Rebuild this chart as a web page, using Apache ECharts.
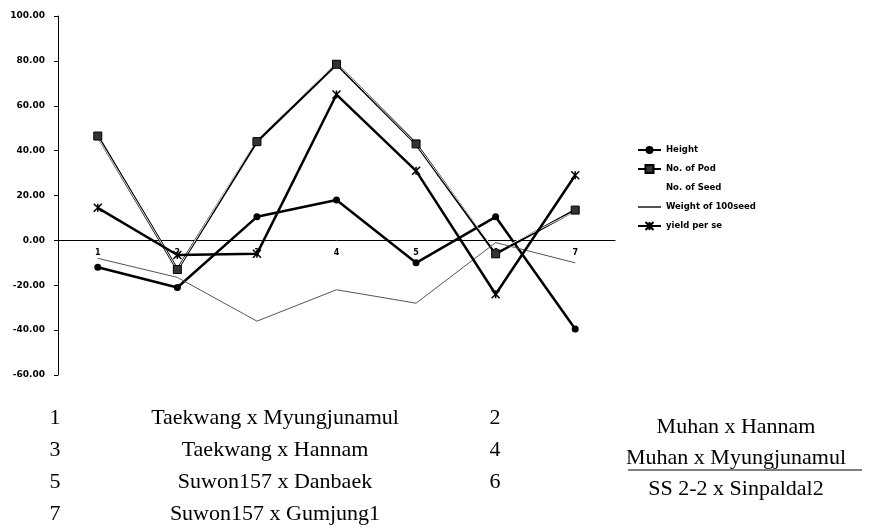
<!DOCTYPE html>
<html>
<head>
<meta charset="utf-8">
<script src="https://cdn.jsdelivr.net/npm/echarts@6/dist/echarts.min.js"></script>
<style>
  html, body { margin: 0; padding: 0; background: #fff; }
  #main { width: 871px; height: 531px; }
</style>
</head>
<body>
<div id="main"></div>
<script>
// data
var cats = ['1', '2', '3', '4', '5', '6', '7'];
var height = [-12, -21, 10.5, 18, -10, 10.5, -39.5];
var noOfPod = [46.5, -13, 44, 78.5, 43, -6, 13.5];
var noOfSeed = [46, -13, 45, 79, 43, -5, 13];
var weight100 = [-8, -16.5, -36, -22, -28, -1, -10];
var yieldPerSe = [14.5, -6.5, -6, 65, 31, -24, 29];

// crosses listed under the chart
var leftNums = ['1', '3', '5', '7'];
var leftNames = ['Taekwang x Myungjunamul', 'Taekwang x Hannam', 'Suwon157 x Danbaek', 'Suwon157 x Gumjung1'];
var rightNums = ['2', '4', '6'];
var rightNames = ['Muhan x Hannam', 'Muhan x Myungjunamul', 'SS 2-2 x Sinpaldal2'];

var smallFont = { fontFamily: 'DejaVu Sans', fontSize: 8.5, fontWeight: 'bold', color: '#000' };
var serifFont = '22px "Liberation Serif"';

var graphics = [];
var rowY = [418, 450, 482, 514];
var rightY = [427, 458, 489];
for (var i = 0; i < leftNums.length; i++) {
  graphics.push({ type: 'text', x: 55, y: rowY[i], style: { text: leftNums[i], font: serifFont, fill: '#000', align: 'center', verticalAlign: 'middle' } });
  graphics.push({ type: 'text', x: 275, y: rowY[i], style: { text: leftNames[i], font: serifFont, fill: '#000', align: 'center', verticalAlign: 'middle' } });
}
for (var j = 0; j < rightNums.length; j++) {
  graphics.push({ type: 'text', x: 495, y: rowY[j], style: { text: rightNums[j], font: serifFont, fill: '#000', align: 'center', verticalAlign: 'middle' } });
  graphics.push({ type: 'text', x: 736, y: rightY[j], style: { text: rightNames[j], font: serifFont, fill: '#000', align: 'center', verticalAlign: 'middle' } });
}
// underline under "Muhan x Myungjunamul"
graphics.push({ type: 'line', shape: { x1: 628, y1: 470, x2: 862, y2: 470 }, style: { stroke: '#000', lineWidth: 1 } });

var crossMark = 'path://M0,0L10,10M10,0L0,10M5,0L5,10';

var myChart = echarts.init(document.getElementById('main'));
var option = {
  backgroundColor: '#fff',
  animation: false,
  grid: { left: 58, right: 256, top: 16, bottom: 156 },
  legend: {
    orient: 'vertical',
    left: 632,
    top: 140,
    itemWidth: 23,
    itemHeight: 10,
    itemGap: 9,
    textStyle: Object.assign({ lineHeight: 10 }, smallFont),
    data: [
      'Height',
      'No. of Pod',
      { name: 'No. of Seed', itemStyle: { opacity: 0 }, lineStyle: { opacity: 0 } },
      { name: 'Weight of 100seed', itemStyle: { opacity: 0 } },
      'yield per se'
    ]
  },
  xAxis: {
    type: 'category',
    data: cats,
    boundaryGap: true,
    offset: -134.6,
    axisLine: { onZero: false, lineStyle: { color: '#000', width: 1 } },
    axisTick: { inside: true, length: 3, lineStyle: { color: '#000' } },
    axisLabel: Object.assign({ margin: 9 }, smallFont, { fontSize: 8 })
  },
  yAxis: {
    type: 'value',
    min: -60,
    max: 100,
    interval: 20,
    splitLine: { show: false },
    axisLine: { show: true, lineStyle: { color: '#000', width: 1 } },
    axisTick: { show: true, length: 4, lineStyle: { color: '#000' } },
    axisLabel: Object.assign({ margin: 13, formatter: function (v) { return v.toFixed(2); } }, smallFont, { fontSize: 9 })
  },
  series: [
    {
      name: 'Height', type: 'line', data: height,
      symbol: 'circle', symbolSize: 7,
      itemStyle: { color: '#000' },
      lineStyle: { color: '#000', width: 2.5 }
    },
    {
      name: 'No. of Pod', type: 'line', data: noOfPod,
      symbol: 'rect', symbolSize: 8,
      itemStyle: { color: '#333', borderColor: '#000', borderWidth: 1 },
      lineStyle: { color: '#000', width: 2.5 }
    },
    {
      name: 'No. of Seed', type: 'line', data: noOfSeed,
      symbol: 'none',
      itemStyle: { color: '#ececec' },
      lineStyle: { color: '#ececec', width: 1 }
    },
    {
      name: 'Weight of 100seed', type: 'line', data: weight100,
      symbol: 'none',
      itemStyle: { color: '#555' },
      lineStyle: { color: '#555', width: 1 }
    },
    {
      name: 'yield per se', type: 'line', data: yieldPerSe,
      symbol: crossMark, symbolSize: 8,
      itemStyle: { color: '#000', borderColor: '#000', borderWidth: 1.5 },
      lineStyle: { color: '#000', width: 2.5 }
    }
  ],
  graphic: graphics
};
myChart.setOption(option);
</script>
</body>
</html>
